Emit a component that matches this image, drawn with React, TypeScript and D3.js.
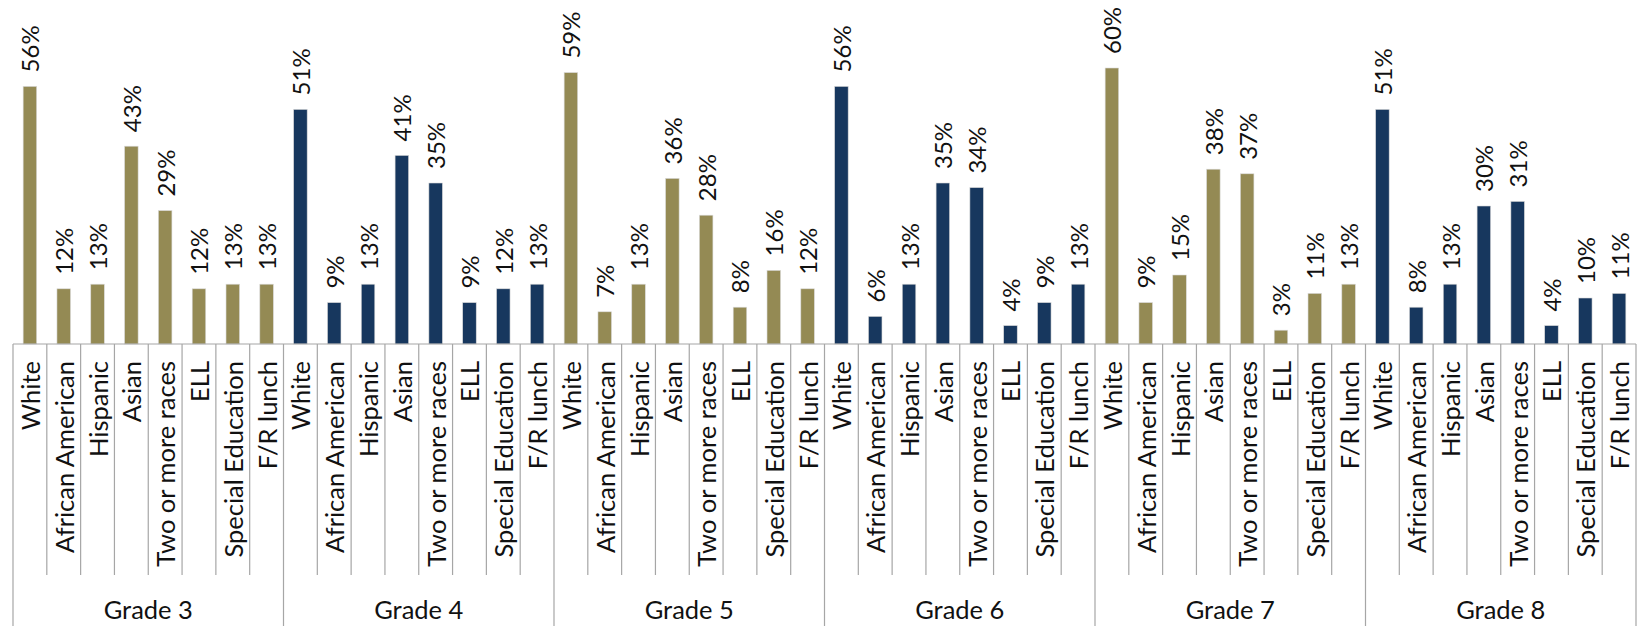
import React from "react";
import * as d3 from "d3";

const grades = ["Grade 3", "Grade 4", "Grade 5", "Grade 6", "Grade 7", "Grade 8"];
const groups = ["White", "African American", "Hispanic", "Asian", "Two or more races", "ELL", "Special Education", "F/R lunch"];
const grade3 = [56, 12, 13, 43, 29, 12, 13, 13];
const grade4 = [51, 9, 13, 41, 35, 9, 12, 13];
const grade5 = [59, 7, 13, 36, 28, 8, 16, 12];
const grade6 = [56, 6, 13, 35, 34, 4, 9, 13];
const grade7 = [60, 9, 15, 38, 37, 3, 11, 13];
const grade8 = [51, 8, 13, 30, 31, 4, 10, 11];
const gradeValues = [grade3, grade4, grade5, grade6, grade7, grade8];
const gradeColors = ["#948A54", "#17375E", "#948A54", "#17375E", "#948A54", "#17375E"];

const W = 1637;
const H = 626;
const left = 13;
const right = 1636;
const axisY = 344;
const font = "Lato, 'Open Sans', sans-serif";

export default function App() {
  const rows = grades.flatMap((g, gi) =>
    groups.map((c, ci) => ({ key: `${gi}-${ci}`, grade: g, gi, cat: c, value: gradeValues[gi][ci] }))
  );
  const x = d3.scaleBand<string>().domain(rows.map((r) => r.key)).range([left, right]).paddingInner(0).paddingOuter(0);
  const y = d3.scaleLinear().domain([0, 60]).range([axisY, axisY - 276]);
  const bw = x.bandwidth();
  const barW = bw * 0.4;
  const gx = d3.scaleBand<string>().domain(grades).range([left, right]);

  return (
    <svg width={W} height={H} style={{ position: "absolute", left: 0, top: 0, display: "block" }} fontFamily={font}>
      <rect width={W} height={H} fill="#fff" />
      {rows.map((r) => {
        const x0 = x(r.key)!;
        const cx = x0 + bw / 2;
        return (
          <g key={r.key}>
            <rect x={cx - barW / 2} y={y(r.value)} width={barW} height={axisY - y(r.value)} fill={gradeColors[r.gi]} stroke="#d9d9d9" strokeWidth={0.6} />
            <text transform={`translate(${cx},${y(r.value) - 14}) rotate(-90)`} dominantBaseline="central" fontSize={24} fill="#111">
              {`${r.value}%`}
            </text>
            <text transform={`translate(${cx},${axisY + 17}) rotate(-90)`} dominantBaseline="central" textAnchor="end" fontSize={25.5} fill="#111">
              {r.cat}
            </text>
          </g>
        );
      })}
      <line x1={left} x2={right} y1={axisY} y2={axisY} stroke="#a6a6a6" strokeWidth={1.2} />
      {rows.map((r, i) =>
        i % groups.length === 0 ? null : (
          <line key={`d${i}`} x1={x(r.key)!} x2={x(r.key)!} y1={axisY} y2={575} stroke="#a6a6a6" strokeWidth={1.2} />
        )
      )}
      {grades.map((g) => (
        <line key={`gd${g}`} x1={gx(g)!} x2={gx(g)!} y1={axisY} y2={H} stroke="#a6a6a6" strokeWidth={1.2} />
      ))}
      <line x1={right} x2={right} y1={axisY} y2={H} stroke="#a6a6a6" strokeWidth={1.2} />
      {grades.map((g) => (
        <text key={`gl${g}`} x={gx(g)! + gx.bandwidth() / 2} y={609} textAnchor="middle" dominantBaseline="central" fontSize={25.5} fill="#111">
          {g}
        </text>
      ))}
    </svg>
  );
}
